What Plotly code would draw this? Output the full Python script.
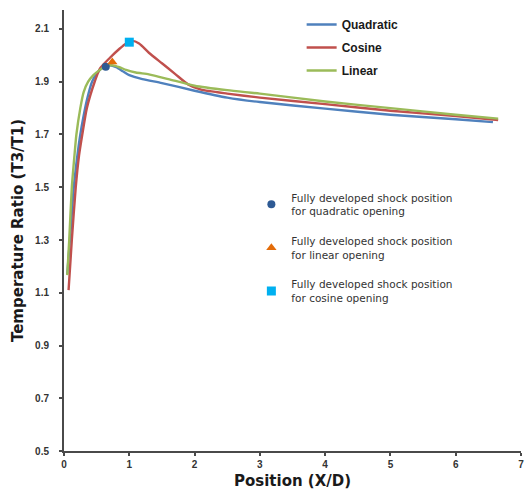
import plotly.graph_objects as go

# Quadratic opening
quad_x = [0.05, 0.1, 0.15, 0.2, 0.25, 0.3, 0.35, 0.43, 0.5, 0.6, 0.7, 0.8, 0.9, 1.0, 1.2, 1.5, 2.0, 2.5, 3.0, 4.0, 5.0, 6.0, 6.57]
quad_y = [1.17, 1.33, 1.5, 1.61, 1.7, 1.77, 1.83, 1.9, 1.93, 1.955, 1.962, 1.955, 1.94, 1.925, 1.91, 1.895, 1.866, 1.84, 1.823, 1.798, 1.775, 1.758, 1.747]

# Cosine opening
cos_x = [0.07, 0.12, 0.18, 0.23, 0.28, 0.35, 0.47, 0.55, 0.7, 0.85, 0.95, 1.05, 1.15, 1.3, 1.5, 1.7, 1.9, 2.1, 2.5, 3.0, 4.0, 5.0, 6.0, 6.65]
cos_y = [1.11, 1.3, 1.5, 1.62, 1.7, 1.8, 1.9, 1.95, 1.99, 2.025, 2.045, 2.055, 2.045, 2.01, 1.97, 1.93, 1.89, 1.87, 1.855, 1.84, 1.815, 1.79, 1.77, 1.755]

# Linear opening
lin_x = [0.05, 0.08, 0.12, 0.16, 0.19, 0.25, 0.3, 0.37, 0.45, 0.55, 0.65, 0.75, 0.85, 0.95, 1.1, 1.3, 1.6, 2.0, 2.5, 3.0, 4.0, 5.0, 6.0, 6.65]
lin_y = [1.167, 1.3, 1.5, 1.62, 1.7, 1.8, 1.86, 1.9, 1.925, 1.945, 1.96, 1.962, 1.955, 1.945, 1.935, 1.928, 1.91, 1.885, 1.868, 1.855, 1.825, 1.8, 1.775, 1.76]

# Fully developed shock positions
shock_quad = (0.64, 1.957)
shock_lin = (0.74, 1.975)
shock_cos = (1.0, 2.05)

x_ticks = [0, 1, 2, 3, 4, 5, 6, 7]
y_ticks = [0.5, 0.7, 0.9, 1.1, 1.3, 1.5, 1.7, 1.9, 2.1]

BLUE = "#4f81bd"
RED = "#c0504d"
GREEN = "#9bbb59"

fig = go.Figure()
line_font = dict(family="Liberation Sans", size=12, color="#1a1a1a")

for name, xs, ys, col in [("Quadratic", quad_x, quad_y, BLUE),
                          ("Cosine", cos_x, cos_y, RED),
                          ("Linear", lin_x, lin_y, GREEN)]:
    fig.add_trace(go.Scatter(x=xs, y=ys, mode="lines", name="<b>" + name + "</b>",
                             line=dict(color=col, width=2.4, shape="spline", smoothing=0.6),
                             legend="legend", legendgroup=name))

for name, pt, sym, col, sz in [
        ("Fully developed shock position<br>for quadratic opening", shock_quad, "circle", "#2e5a94", 8),
        ("Fully developed shock position<br>for linear opening", shock_lin, "triangle-up", "#e36c09", 9),
        ("Fully developed shock position<br>for cosine opening", shock_cos, "square", "#00b0f0", 9)]:
    fig.add_trace(go.Scatter(x=[pt[0]], y=[pt[1]], mode="markers", name=name,
                             marker=dict(symbol=sym, color=col, size=sz),
                             legend="legend2", legendgroup=name))

axis_common = dict(showgrid=False, zeroline=False, showline=True, linecolor="#4a4a4a",
                   linewidth=2, ticks="outside", ticklen=3, tickwidth=1.5, tickcolor="#4a4a4a",
                   tickfont=dict(family="Liberation Sans", size=10, color="#333333", weight="bold"))

fig.update_layout(
    width=526, height=493,
    margin=dict(l=64, r=5, t=10, b=42),
    plot_bgcolor="white", paper_bgcolor="white",
    xaxis=dict(range=[0, 7], tickvals=x_ticks, ticktext=[str(v) for v in x_ticks],
               automargin=False,
               title=dict(text="Position (X/D)", standoff=6,
                          font=dict(family="DejaVu Sans", size=15, color="#1a1a1a", weight="bold")),
               **axis_common),
    yaxis=dict(range=[0.5, 2.172], tickvals=y_ticks, ticktext=[f"{v:.1f}" for v in y_ticks],
               ticklabelstandoff=8,
               title=dict(text="Temperature Ratio (T3/T1)", standoff=8,
                          font=dict(family="DejaVu Sans", size=15, color="#1a1a1a", weight="bold")),
               **axis_common),
    legend=dict(x=0.52, y=1.0, xanchor="left", yanchor="top", bgcolor="rgba(0,0,0,0)",
                font=line_font, tracegroupgap=4, itemwidth=30),
    legend2=dict(x=0.41, y=0.605, xanchor="left", yanchor="top", bgcolor="rgba(0,0,0,0)",
                 font=dict(family="DejaVu Sans", size=10.5, color="#333333"), tracegroupgap=13,
                 itemwidth=30),
    showlegend=True,
)

fig.write_html("out.html")
